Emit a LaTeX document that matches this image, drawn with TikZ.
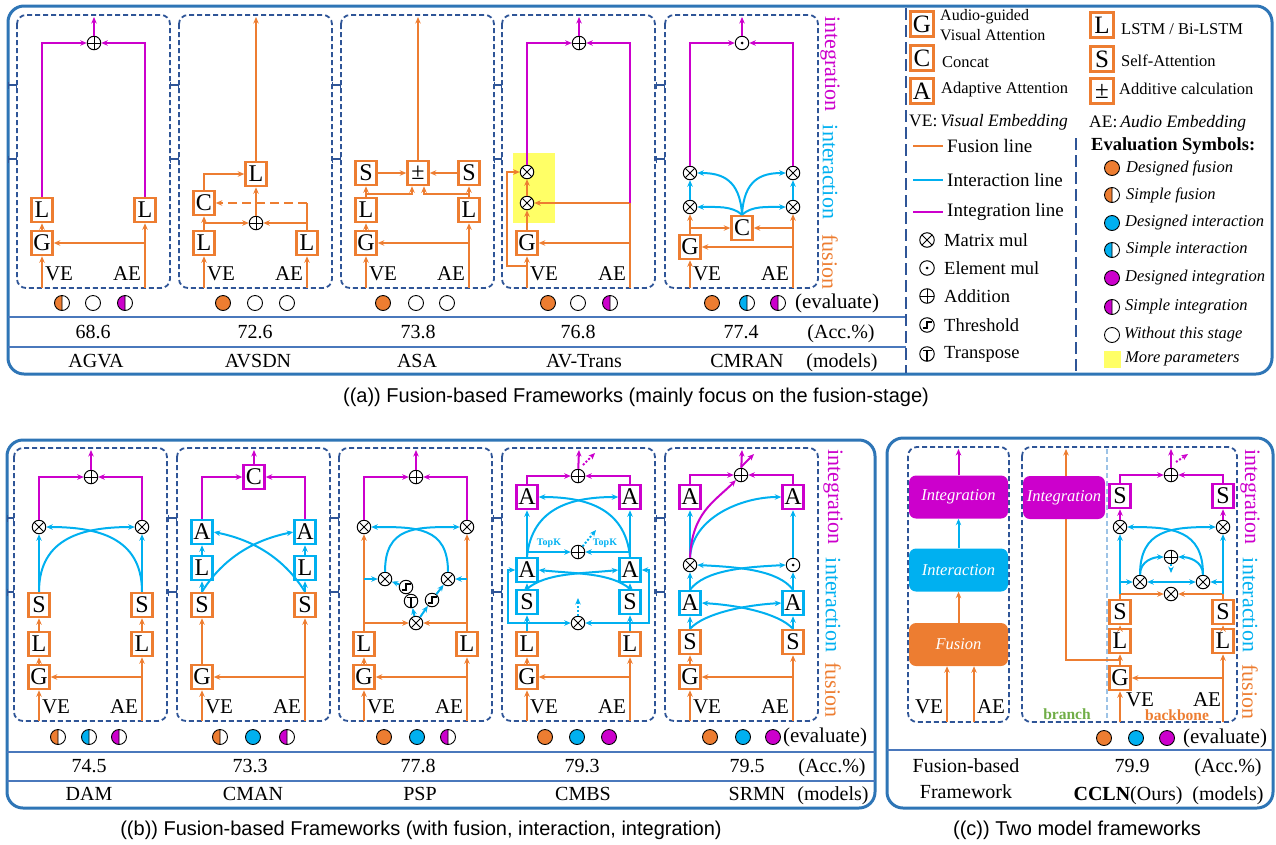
\documentclass[tikz,border=0pt]{standalone}
\usepackage{fontspec}
\setmainfont{Liberation Serif}
\newfontfamily\capfont{Liberation Sans}
\usetikzlibrary{arrows.meta}
\definecolor{orC}{HTML}{ED7D31}
\definecolor{cyC}{HTML}{00B0F0}
\definecolor{mgC}{HTML}{CC00CC}
\definecolor{frC}{HTML}{2E75B6}
\definecolor{dbC}{HTML}{2F5597}
\definecolor{tbC}{HTML}{4A78BC}
\definecolor{ylC}{HTML}{FFFF66}
\definecolor{grC}{HTML}{70AD47}
\definecolor{lbC}{HTML}{9DC3E6}
\newcommand\evf[3]{\draw[line width=0.9pt,fill=#3] (#1,#2) circle[radius=7.5];}
\newcommand\evh[3]{\fill[#3] (#1,#2) -- ++(0,7.5) arc[start angle=90,end angle=270,radius=7.5] -- cycle;
  \draw[line width=0.9pt] (#1,#2) circle[radius=7.5] (#1,#2) ++(0,-7.5) -- ++(0,15);}
\newcommand\evn[2]{\draw[line width=0.9pt,fill=white] (#1,#2) circle[radius=7.5];}
\newcommand\fwbase{%
  \draw[fwbox] (0,0) rectangle (153,273);
  \coordinate (ve) at (25,273);
  \coordinate (ae) at (128,273);
  \coordinate (out) at (77,2);
  \node[lab] (vet) at (42,259) {VE};
  \node[lab] (aet) at (110,259) {AE};
}
\begin{document}
\begin{tikzpicture}[x=1pt,y=-1pt,
  >={Stealth[length=6.5pt,width=5.5pt]},
  orl/.style={draw=orC,line width=2pt},
  cyl/.style={draw=cyC,line width=2pt},
  mgl/.style={draw=mgC,line width=2pt},
  dotl/.style={dash pattern=on 2pt off 1.8pt},
  obox/.style={draw=orC,line width=2.5pt,fill=white,minimum width=21pt,minimum height=24pt,inner sep=0pt,font=\fontsize{24}{24}\selectfont},
  cbox/.style={obox,draw=cyC},
  mbox/.style={obox,draw=mgC},
  lgb/.style={minimum width=23pt,minimum height=25pt,font=\fontsize{25}{25}\selectfont},
  opc/.style={circle,draw=black,line width=1pt,fill=white,minimum size=13.5pt,inner sep=0pt},
  otimes/.style={opc,path picture={\draw[black,line width=0.9pt] (path picture bounding box.north west) -- (path picture bounding box.south east) (path picture bounding box.north east) -- (path picture bounding box.south west);}},
  oplus/.style={opc,path picture={\draw[black,line width=0.9pt] (path picture bounding box.north) -- (path picture bounding box.south) (path picture bounding box.east) -- (path picture bounding box.west);}},
  odot/.style={opc,path picture={\fill[black] (path picture bounding box.center) circle[radius=1.5pt];}},
  thr/.style={opc,path picture={\draw[black,line width=1.1pt] ([shift={(-4.5pt,-3pt)}]path picture bounding box.center) -- ++(4.5pt,0pt) -- ++(0pt,6pt) -- ++(4.5pt,0pt);}},
  trp/.style={opc,path picture={\draw[black,line width=1.1pt] ([shift={(-4.5pt,3.5pt)}]path picture bounding box.center) -- ++(9pt,0pt) ([shift={(0pt,3.5pt)}]path picture bounding box.center) -- ++(0pt,-10pt);}},
  fwbox/.style={draw=dbC,line width=1.8pt,dash pattern=on 5pt off 3pt,rounded corners=9pt},
  panel/.style={draw=frC,line width=3pt,rounded corners=16pt},
  tline/.style={draw=tbC,line width=1.4pt},
  stgtick/.style={draw=dbC,line width=1.4pt,{Bar[width=7pt]}-{Bar[width=7pt]}},
  lab/.style={font=\fontsize{21}{21}\selectfont,inner sep=0pt},
  tbt/.style={font=\fontsize{20}{20}\selectfont,inner sep=0pt,text height=14pt,text depth=4pt},
  stg/.style={font=\fontsize{22}{22}\selectfont,rotate=-90,inner sep=0pt},
  lgt/.style={font=\fontsize{16.5}{19}\selectfont,inner sep=0pt,anchor=west},
  lgm/.style={font=\fontsize{19}{19}\selectfont,inner sep=0pt,anchor=west},
  lge/.style={font=\fontsize{16.5}{18}\selectfont\itshape,inner sep=0pt,anchor=west},
  blk/.style={rounded corners=7pt,minimum width=99pt,minimum height=43pt,inner sep=0pt,text=white,font=\fontsize{16.5}{18}\selectfont\itshape},
  capt/.style={font=\capfont\fontsize{20}{20}\selectfont,inner sep=0pt},
  topk/.style={font=\fontsize{10}{10}\selectfont\bfseries,text=cyC,inner sep=0pt}
]
\useasboundingbox (0,0) rectangle (1276,844);

% ---------- panels ----------
\draw[panel] (8,6) rectangle (1272,374);
\draw[panel] (7,440) rectangle (875,808);
\draw[panel] (887,438) rectangle (1273,808);
\draw[tline] (8,317) -- (906,317);
\draw[tline] (8,347) -- (906,347);
\draw[tline] (7,752) -- (875,752);
\draw[tline] (7,781) -- (875,781);
\draw[tline] (887,750) -- (1273,750);
\draw[draw=dbC,line width=1.6pt,dash pattern=on 12pt off 5pt] (906,8) -- (906,373);
\draw[draw=dbC,line width=1.6pt,dash pattern=on 12pt off 5pt] (1076,138) -- (1076,373);

% stage ticks
\foreach \y in {85,159}{
  \foreach \a/\b in {8/17,170/179,332/341,494/502,656/665}{\draw[stgtick] (\a,\y) -- (\b,\y);}}
\foreach \y in {518,592}{
  \foreach \a/\b in {7/14,168/177,330/339,493/502,656/665}{\draw[stgtick] (\a,\y) -- (\b,\y);}}

% ---------- AGVA ----------
\begin{scope}[shift={(17,15)},name prefix=agva-]
\fwbase
\node[obox] (G) at (25,228) {G};
\node[obox] (L1) at (25,195) {L};
\node[obox] (L2) at (128,195) {L};
\node[oplus] (P) at (77,28) {};
\draw[orl,->] (ve) -- (G);
\draw[orl,->] (ae) -- (L2);
\draw[orl,->] (ae |- G) -- (G);
\draw[orl,->] (G) -- (L1);
\draw[mgl,->] (L1.north) |- (P);
\draw[mgl,->] (L2.north) |- (P);
\draw[mgl,->] (P) -- (out);
\end{scope}

% ---------- AVSDN ----------
\begin{scope}[shift={(179,15)},name prefix=avsdn-]
\fwbase
\node[obox] (L1) at (25,228) {L};
\node[obox] (L2) at (128,228) {L};
\node[oplus] (P) at (77,208) {};
\node[obox] (C) at (25,188) {C};
\node[obox] (L3) at (77,159) {L};
\draw[orl,->] (ve) -- (L1);
\draw[orl,->] (ae) -- (L2);
\draw[orl,->] (L1) -- (C);
\draw[orl,->] (L1.north |- P) -- (P);
\draw[orl] (L2.north) -- (L2.north |- C);
\draw[orl,->] (L2.north |- P) -- (P);
\draw[orl,->,dash pattern=on 9pt off 5pt] (L2.north |- C) -- (C);
\draw[orl,->] (P) -- (L3);
\draw[orl,->] (C.north) |- (L3);
\draw[orl,->] (L3) -- (out);
\end{scope}

% ---------- ASA ----------
\begin{scope}[shift={(341,15)},name prefix=asa-]
\fwbase
\node[obox] (G) at (25,228) {G};
\node[obox] (L1) at (25,195) {L};
\node[obox] (S1) at (25,158) {S};
\node[obox] (L2) at (128,195) {L};
\node[obox] (S2) at (128,158) {S};
\node[obox] (PM) at (77,158) {±};
\coordinate (b1) at (25,179);
\coordinate (b2) at (128,179);
\draw[orl,->] (ve) -- (G);
\draw[orl,->] (ae) -- (L2);
\draw[orl,->] (ae |- G) -- (G);
\draw[orl,->] (G) -- (L1);
\draw[orl,->] (L1) -- (S1);
\draw[orl,->] (L2) -- (S2);
\draw[orl,->] (b1) -| ([xshift=-6pt]PM.south);
\draw[orl,->] (b2) -| ([xshift=6pt]PM.south);
\draw[orl,->] (S1) -- (PM);
\draw[orl,->] (S2) -- (PM);
\draw[orl,->] (PM) -- (out);
\end{scope}

% ---------- AV-Trans ----------
\begin{scope}[shift={(502,15)},name prefix=avt-]
\fill[ylC] (11,138) rectangle (53,208);
\fwbase
\node[obox] (G) at (25,228) {G};
\node[otimes] (X1) at (25,188) {};
\node[otimes] (X2) at (25,157) {};
\node[oplus] (P) at (77,28) {};
\coordinate (vb) at (25,251);
\coordinate (vc) at (5,157);
\draw[orl,->] (ve) -- (G);
\draw[orl,->] (vb) -| (vc) -- (X2);
\draw[orl] (ae) -- (ae |- X1);
\draw[orl,->] (ae |- G) -- (G);
\draw[orl,->] (ae |- X1) -- (X1);
\draw[mgl,->] (ae |- X1) |- (P);
\draw[orl,->] (G) -- (X1);
\draw[orl,->] (X1) -- (X2);
\draw[mgl,->] (X2.north) |- (P);
\draw[mgl,->] (P) -- (out);
\end{scope}

% ---------- CMRAN ----------
\begin{scope}[shift={(665,15)},name prefix=cmran-]
\fwbase
\node[obox] (G) at (25,232) {G};
\node[obox] (C) at (77,213) {C};
\node[otimes] (X1) at (25,192) {};
\node[otimes] (X2) at (25,158) {};
\node[otimes] (X3) at (128,192) {};
\node[otimes] (X4) at (128,158) {};
\node[odot] (D) at (77,28) {};
\draw[orl,->] (ve) -- (G);
\draw[orl,->] (G) -- (X1);
\draw[orl,->] (G.north |- C) -- (C);
\draw[orl,->] (ae) -- (X3);
\draw[orl,->] (ae |- G) -- (G);
\draw[orl,->] (ae |- C) -- (C);
\draw[cyl,->] (X1) -- (X2);
\draw[cyl,->] (X3) -- (X4);
\draw[cyl,->] (C.north) .. controls +(-10,-9) and +(20,0) .. (X1.east);
\draw[cyl,->] (C.north) .. controls +(10,-9) and +(-20,0) .. (X3.west);
\draw[cyl,->] (C.north) .. controls +(-2,-35) and +(25,0) .. (X2.east);
\draw[cyl,->] (C.north) .. controls +(2,-35) and +(-25,0) .. (X4.west);
\draw[mgl,->] (X2.north) |- (D);
\draw[mgl,->] (X4.north) |- (D);
\draw[mgl,->] (D) -- (out);
\end{scope}

% stage labels (a)
\node[stg,text=mgC] (sa1) at (830,64) {integration};
\node[stg,text=cyC] (sa2) at (830,172) {interaction};
\node[stg,text=orC] (sa3) at (830,262) {fusion};

% evaluation (a)
\evh{62}{303}{orC} \evn{93}{303} \evh{125}{303}{mgC}
\evf{223}{303}{orC} \evn{255}{303} \evn{287}{303}
\evf{383}{303}{orC} \evn{416}{303} \evn{447}{303}
\evf{548}{303}{orC} \evn{578}{303} \evh{610}{303}{mgC}
\evf{712}{303}{orC} \evh{747}{303}{cyC} \evh{778}{303}{mgC}
\node[tbt,font=\fontsize{21}{21}\selectfont] (ea) at (837,303) {(evaluate)};
\node[tbt] (acc1) at (93,333) {68.6};
\node[tbt] (acc2) at (255,333) {72.6};
\node[tbt] (acc3) at (418,333) {73.8};
\node[tbt] (acc4) at (578,333) {76.8};
\node[tbt] (acc5) at (741,333) {77.4};
\node[tbt] (acca) at (841,333) {(Acc.\%)};
\node[tbt] (m1) at (96,362) {AGVA};
\node[tbt] (m2) at (258,362) {AVSDN};
\node[tbt] (m3) at (417,362) {ASA};
\node[tbt] (m4) at (584,362) {AV-Trans};
\node[tbt] (m5) at (747,362) {CMRAN};
\node[tbt] (ma) at (842,362) {(models)};

% ---------- legend ----------
\node[obox,lgb] (lgG) at (922,24) {G};
\node[obox,lgb] (lgC) at (922,58) {C};
\node[obox,lgb] (lgA) at (922,91) {A};
\node[obox,lgb] (lgL) at (1102,25) {L};
\node[obox,lgb] (lgS) at (1102,59) {S};
\node[obox,lgb] (lgP) at (1102,91) {±};
\node[lgt,align=left,font=\fontsize{16}{19.5}\selectfont] (lgGt) at (940,25) {Audio-guided\\Visual Attention};
\node[lgt] (lgCt) at (942,62) {Concat};
\node[lgt] (lgAt) at (941,90) {Adaptive Attention};
\node[lgt] (lgLt) at (1121,29) {LSTM / Bi-LSTM};
\node[lgt] (lgSt) at (1121,61) {Self-Attention};
\node[lgt] (lgPt) at (1119,89) {Additive calculation};
\node[lgt,font=\fontsize{17.5}{19}\selectfont] (lgVE) at (909,122) {VE:\,\textit{Visual Embedding}};
\node[lgt,font=\fontsize{17.5}{19}\selectfont] (lgAE) at (1089,123) {AE:\,\textit{Audio Embedding}};
\coordinate (lf1) at (913,146); \coordinate (lf2) at (943,146);
\coordinate (li1) at (913,180); \coordinate (li2) at (943,180);
\coordinate (lm1) at (913,212); \coordinate (lm2) at (943,212);
\draw[orl] (lf1) -- (lf2);
\draw[cyl] (li1) -- (li2);
\draw[mgl] (lm1) -- (lm2);
\node[lgm] (lgf) at (947,146) {Fusion line};
\node[lgm] (lgi) at (947,180) {Interaction line};
\node[lgm] (lgm) at (947,212) {Integration line};
\node[otimes,minimum size=14.5pt] (sy1) at (927,240) {};
\node[odot,minimum size=14.5pt] (sy2) at (927,268) {};
\node[oplus,minimum size=14.5pt] (sy3) at (927,296) {};
\node[thr,minimum size=14.5pt] (sy4) at (927,325) {};
\node[trp,minimum size=14.5pt] (sy5) at (927,354) {};
\node[lgm,font=\fontsize{18.5}{19}\selectfont] (sy1t) at (944,240) {Matrix mul};
\node[lgm,font=\fontsize{18.5}{19}\selectfont] (sy2t) at (944,268) {Element mul};
\node[lgm,font=\fontsize{18.5}{19}\selectfont] (sy3t) at (944,296) {Addition};
\node[lgm,font=\fontsize{18.5}{19}\selectfont] (sy4t) at (944,325) {Threshold};
\node[lgm,font=\fontsize{18.5}{19}\selectfont] (sy5t) at (944,354) {Transpose};
\node[lgm,font=\fontsize{18.5}{19}\selectfont\bfseries] (evs) at (1091,146) {Evaluation Symbols:};
\evf{1112}{168}{orC} \evh{1112}{195}{orC} \evf{1112}{223}{cyC} \evh{1112}{250}{cyC}
\evf{1112}{278}{mgC} \evh{1112}{307}{mgC} \evn{1112}{335}
\fill[ylC] (1103.5,350.5) rectangle (1120.5,367.5);
\node[lge] (ev1) at (1126,168) {Designed fusion};
\node[lge] (ev2) at (1126,195) {Simple fusion};
\node[lge] (ev3) at (1125,223) {Designed interaction};
\node[lge] (ev4) at (1126,250) {Simple interaction};
\node[lge] (ev5) at (1125,278) {Designed integration};
\node[lge] (ev6) at (1125,307) {Simple integration};
\node[lge] (ev7) at (1124,335) {Without this stage};
\node[lge] (ev8) at (1125,359) {More parameters};

% ---------- DAM ----------
\begin{scope}[shift={(14,448)},name prefix=dam-]
\fwbase
\node[obox] (G) at (25,229) {G};
\node[obox] (L1) at (25,196) {L};
\node[obox] (S1) at (25,157) {S};
\node[obox] (L2) at (128,196) {L};
\node[obox] (S2) at (128,157) {S};
\node[otimes] (X1) at (25,79) {};
\node[otimes] (X2) at (128,79) {};
\node[oplus] (P) at (77,29) {};
\draw[orl,->] (ve) -- (G);
\draw[orl,->] (G) -- (L1);
\draw[orl,->] (L1) -- (S1);
\draw[orl,->] (ae) -- (L2);
\draw[orl,->] (ae |- G) -- (G);
\draw[orl,->] (L2) -- (S2);
\draw[cyl,->] (S1) -- (X1);
\draw[cyl,->] (S2) -- (X2);
\draw[cyl,->] (S1.north) .. controls +(0,-55) and +(-50,0) .. (X2.west);
\draw[cyl,->] (S2.north) .. controls +(0,-55) and +(50,0) .. (X1.east);
\draw[mgl,->] (X1.north) |- (P);
\draw[mgl,->] (X2.north) |- (P);
\draw[mgl,->] (P) -- (out);
\end{scope}

% ---------- CMAN ----------
\begin{scope}[shift={(177,448)},name prefix=cman-]
\fwbase
\node[obox] (G) at (25,229) {G};
\node[obox] (S1) at (25,157) {S};
\node[cbox] (L1) at (25,120) {L};
\node[cbox] (A1) at (25,84) {A};
\node[obox] (S2) at (128,157) {S};
\node[cbox] (L2) at (128,120) {L};
\node[cbox] (A2) at (128,84) {A};
\node[mbox] (C) at (77,29) {C};
\draw[orl,->] (ve) -- (G);
\draw[orl,->] (G) -- (S1);
\draw[orl,->] (ae) -- (S2);
\draw[orl,->] (ae |- G) -- (G);
\draw[cyl,->] (S1) -- (L1);
\draw[cyl,->] (L1) -- (A1);
\draw[cyl,->] (S2) -- (L2);
\draw[cyl,->] (L2) -- (A2);
\draw[cyl,->] (S1.north) .. controls +(25,-40) and +(-30,6) .. (A2.west);
\draw[cyl,->] (S2.north) .. controls +(-25,-40) and +(30,6) .. (A1.east);
\draw[mgl,->] (A1.north) |- (C);
\draw[mgl,->] (A2.north) |- (C);
\draw[mgl,->] (C) -- (out);
\end{scope}

% ---------- PSP ----------
\begin{scope}[shift={(339,448)},name prefix=psp-]
\fwbase
\node[obox] (G) at (25,229) {G};
\node[obox] (L1) at (25,196) {L};
\node[obox] (L2) at (128,196) {L};
\node[otimes] (XB) at (77,175) {};
\node[otimes] (XML) at (46,131) {};
\node[otimes] (XMR) at (109,131) {};
\node[thr] (TH1) at (67,139) {};
\node[trp] (TT) at (72,153) {};
\node[thr] (TH2) at (93,152) {};
\node[otimes] (XTL) at (25,79) {};
\node[otimes] (XTR) at (128,79) {};
\node[oplus] (P) at (77,29) {};
\draw[orl,->] (ve) -- (G);
\draw[orl,->] (G) -- (L1);
\draw[orl,->] (ae) -- (L2);
\draw[orl,->] (ae |- G) -- (G);
\draw[orl,->] (L1) -- (XTL);
\draw[orl,->] (L2) -- (XTR);
\draw[orl,->] (L1.north |- XB) -- (XB);
\draw[orl,->] (L2.north |- XB) -- (XB);
\draw[cyl,->] (L1.north |- XML) -- (XML);
\draw[cyl,->] (L2.north |- XMR) -- (XMR);
\draw[cyl,->] (XB) -- (TT);
\draw[cyl,->] (XB) -- (TH2);
\draw[cyl,->] (TH2) -- (XMR);
\draw[cyl,->] (TH1) -- (XML);
\draw[cyl,->] (XML.north) .. controls +(0,-45) and +(-45,0) .. (XTR.west);
\draw[cyl,->] (XMR.north) .. controls +(0,-45) and +(45,0) .. (XTL.east);
\draw[mgl,->] (XTL.north) |- (P);
\draw[mgl,->] (XTR.north) |- (P);
\draw[mgl,->] (P) -- (out);
\end{scope}

% ---------- CMBS ----------
\begin{scope}[shift={(502,448)},name prefix=cmbs-]
\fwbase
\node[obox] (G) at (25,229) {G};
\node[obox] (L1) at (25,196) {L};
\node[cbox] (S1) at (25,154) {S};
\node[cbox] (A1) at (25,122) {A};
\node[mbox] (AT1) at (25,49) {A};
\node[obox] (L2) at (128,196) {L};
\node[cbox] (S2) at (128,154) {S};
\node[cbox] (A2) at (128,122) {A};
\node[mbox] (AT2) at (128,49) {A};
\node[otimes] (X) at (76,175) {};
\node[oplus] (PM) at (76,104) {};
\node[oplus] (PT) at (76,28) {};
\node[topk] (tk1) at (47,95) {TopK};
\node[topk] (tk2) at (103,95) {TopK};
\coordinate (lp1) at (6,175);
\coordinate (lp2) at (147,175);
\coordinate (dx) at (76,150);
\coordinate (dp) at (94,82);
\coordinate (dts) at (81,17);
\coordinate (dt) at (93,5);
\draw[orl,->] (ve) -- (G);
\draw[orl,->] (G) -- (L1);
\draw[orl,->] (ae) -- (L2);
\draw[orl,->] (ae |- G) -- (G);
\draw[cyl,->] (L1) -- (S1);
\draw[cyl,->] (L2) -- (S2);
\draw[cyl,->] (L1.north |- X) -- (X);
\draw[cyl,->] (L2.north |- X) -- (X);
\draw[cyl,->] (L1.north |- X) -- (lp1) |- (A1);
\draw[cyl,->] (L2.north |- X) -- (lp2) |- (A2);
\draw[cyl,->] (S1) -- (A1);
\draw[cyl,->] (S2) -- (A2);
\draw[cyl,->] (S1.north) .. controls +(20,-16) and +(-40,4) .. (A2.west);
\draw[cyl,->] (S2.north) .. controls +(-20,-16) and +(40,4) .. (A1.east);
\draw[cyl,->] (A1) -- (AT1);
\draw[cyl,->] (A2) -- (AT2);
\draw[cyl,->] (A1.north |- PM) -- (PM);
\draw[cyl,->] (A2.north |- PM) -- (PM);
\draw[cyl,->] (A1.north) .. controls +(5,-50) and +(-45,0) .. (AT2.west);
\draw[cyl,->] (A2.north) .. controls +(-5,-50) and +(45,0) .. (AT1.east);
\draw[cyl,dotl,->] (X) -- (dx);
\draw[cyl,dotl,->] (PM) -- (dp);
\draw[mgl,->] (AT1.north) |- (PT);
\draw[mgl,->] (AT2.north) |- (PT);
\draw[mgl,->] (PT) -- (out);
\draw[mgl,dotl,->] (dts) -- (dt);
\end{scope}

% ---------- SRMN ----------
\begin{scope}[shift={(665,448)},name prefix=srmn-]
\fwbase
\node[obox] (G) at (25,229) {G};
\node[obox] (S1) at (25,194) {S};
\node[cbox] (A1) at (25,155) {A};
\node[otimes] (X) at (25,117) {};
\node[mbox] (AT1) at (25,49) {A};
\node[obox] (S2) at (128,194) {S};
\node[cbox] (A2) at (128,155) {A};
\node[odot] (D) at (128,117) {};
\node[mbox] (AT2) at (128,49) {A};
\node[oplus] (P) at (76,27) {};
\coordinate (ps) at (76,19);
\coordinate (pe) at (89,6);
\draw[orl,->] (ve) -- (G);
\draw[orl,->] (G) -- (S1);
\draw[orl,->] (ae) -- (S2);
\draw[orl,->] (ae |- G) -- (G);
\draw[cyl,->] (S1) -- (A1);
\draw[cyl,->] (S2) -- (A2);
\draw[cyl,->] (S1.north) .. controls +(15,-16) and +(-35,2) .. (A2.west);
\draw[cyl,->] (S2.north) .. controls +(-15,-16) and +(35,2) .. (A1.east);
\draw[cyl,->] (A1) -- (X);
\draw[cyl,->] (A2) -- (D);
\draw[cyl,->] (A1.north) .. controls +(15,-20) and +(-40,2) .. (D.west);
\draw[cyl,->] (A2.north) .. controls +(-15,-20) and +(40,2) .. (X.east);
\draw[cyl,->] (X) -- (AT1);
\draw[cyl,->] (D) -- (AT2);
\draw[cyl,->] (X.north) .. controls +(2,-40) and +(-40,0) .. (AT2.west);
\draw[mgl,->] (X.north) .. controls +(2,-45) and +(-22,22) .. (P.225);
\draw[mgl,->] (AT1.north) |- (P);
\draw[mgl,->] (AT2.north) |- (P);
\draw[mgl,->] (P) -- (out);
\draw[mgl,->] (ps) -- (pe);
\end{scope}

% stage labels (b)
\node[stg,text=mgC] (sb1) at (833,497) {integration};
\node[stg,text=cyC] (sb2) at (833,605) {interaction};
\node[stg,text=orC] (sb3) at (833,690) {fusion};

% evaluation (b)
\evh{58}{737}{orC} \evh{89}{737}{cyC} \evh{119}{737}{mgC}
\evh{220}{737}{orC} \evf{253}{737}{cyC} \evh{287}{737}{mgC}
\evf{384}{737}{orC} \evf{417}{737}{cyC} \evh{448}{737}{mgC}
\evf{545}{737}{orC} \evf{577}{737}{cyC} \evf{609}{737}{mgC}
\evf{710}{737}{orC} \evf{743}{737}{cyC} \evf{773}{737}{mgC}
\node[tbt,font=\fontsize{21}{21}\selectfont] (eb) at (825,737) {(evaluate)};
\node[tbt] (bacc1) at (89,767) {74.5};
\node[tbt] (bacc2) at (250,767) {73.3};
\node[tbt] (bacc3) at (418,767) {77.8};
\node[tbt] (bacc4) at (582,767) {79.3};
\node[tbt] (bacc5) at (747,767) {79.5};
\node[tbt] (bacca) at (832,767) {(Acc.\%)};
\node[tbt] (bm1) at (89,795) {DAM};
\node[tbt] (bm2) at (253,795) {CMAN};
\node[tbt] (bm3) at (420,795) {PSP};
\node[tbt] (bm4) at (583,795) {CMBS};
\node[tbt] (bm5) at (757,795) {SRMN};
\node[tbt] (bma) at (833,795) {(models)};

% ---------- panel (c) left ----------
\draw[fwbox] (908,447) rectangle (1009,722);
\node[blk,fill=orC] (cFus) at (958.5,644.5) {Fusion};
\node[blk,fill=cyC] (cInt) at (958.5,570) {Interaction};
\node[blk,fill=mgC] (cIng) at (958.5,497) {Integration};
\coordinate (clve) at (947,722);
\coordinate (clae) at (974,722);
\coordinate (clout) at (958.5,449);
\node[lab] (clvet) at (929,707) {VE};
\node[lab] (claet) at (991,707) {AE};
\draw[orl,->] (clve) -- (clve |- cFus.south);
\draw[orl,->] (clae) -- (clae |- cFus.south);
\draw[orl,->] (cFus) -- (cInt);
\draw[cyl,->] (cInt) -- (cIng);
\draw[mgl,->] (cIng) -- (clout);

% ---------- panel (c) right: CCLN ----------
\draw[fwbox] (1022,447) rectangle (1237,722);
\draw[lbC,line width=1.4pt,dash pattern=on 5pt off 3pt] (1107,449) -- (1107,720);
\coordinate (cve) at (1120,722);
\coordinate (cae) at (1223,722);
\coordinate (cbp) at (1120,660);
\coordinate (cbr) at (1066,449);
\coordinate (ctop) at (1171,449);
\coordinate (cpd) at (1171,573);
\coordinate (cds) at (1176,462);
\coordinate (cde) at (1188,454);
\draw[orl,->] (cbp) -| (cbr);
\node[blk,fill=mgC,minimum width=82pt] (cIngB) at (1064,497.5) {Integration};
\node[obox] (cG) at (1120,678) {G};
\node[obox] (cL1) at (1120,641) {L};
\node[obox] (cS1) at (1120,612) {S};
\node[obox] (cL2) at (1223,641) {L};
\node[obox] (cS2) at (1223,612) {S};
\node[otimes] (cXB) at (1171,594) {};
\node[otimes] (cXML) at (1140,582) {};
\node[otimes] (cXMR) at (1203,582) {};
\node[oplus] (cPM) at (1171,557) {};
\node[otimes] (cXTL) at (1120,527) {};
\node[otimes] (cXTR) at (1223,527) {};
\node[mbox] (cST1) at (1120,496) {S};
\node[mbox] (cST2) at (1223,496) {S};
\node[oplus] (cPT) at (1171,475) {};
\node[lab] (cvet) at (1140,700) {VE};
\node[lab] (caet) at (1207,700) {AE};
\node[font=\fontsize{15.5}{16}\selectfont\bfseries,text=grC,inner sep=0pt] (cbrt) at (1067,714) {branch};
\node[font=\fontsize{15.5}{16}\selectfont\bfseries,text=orC,inner sep=0pt] (cbbt) at (1177,715) {backbone};
\draw[orl,->] (cve) -- (cG);
\draw[orl,->] (cG) -- (cL1);
\draw[orl,->] (cL1) -- (cS1);
\draw[orl,->] (cae) -- (cL2);
\draw[orl,->] (cae |- cG) -- (cG);
\draw[orl,->] (cL2) -- (cS2);
\draw[orl] (cS1.north) -- (cS1.north |- cXB);
\draw[orl] (cS2.north) -- (cS2.north |- cXB);
\draw[orl,->] (cS1.north |- cXB) -- (cXB);
\draw[orl,->] (cS2.north |- cXB) -- (cXB);
\draw[cyl,->] (cS1.north |- cXB) -- (cXTL);
\draw[cyl,->] (cS2.north |- cXB) -- (cXTR);
\draw[cyl,->] (cS1.north |- cXML) -- (cXML);
\draw[cyl,->] (cS2.north |- cXMR) -- (cXMR);
\draw[cyl,<->] (cXML) -- (cXMR);
\draw[cyl,->] (cXML.north) .. controls +(0,-14) and +(-10,0) .. (cPM.west);
\draw[cyl,->] (cXMR.north) .. controls +(0,-14) and +(10,0) .. (cPM.east);
\draw[cyl,dotl,->] (cPM) -- (cpd);
\draw[cyl,->] (cXML.north) .. controls +(0,-45) and +(-45,0) .. (cXTR.west);
\draw[cyl,->] (cXMR.north) .. controls +(0,-45) and +(45,0) .. (cXTL.east);
\draw[mgl,->] (cXTL) -- (cST1);
\draw[mgl,->] (cXTR) -- (cST2);
\draw[mgl,->] (cST1.north) |- (cPT);
\draw[mgl,->] (cST2.north) |- (cPT);
\draw[mgl,->] (cPT) -- (ctop);
\draw[mgl,dotl,->] (cds) -- (cde);

% stage labels (c)
\node[stg,text=mgC] (sc1) at (1250,497) {integration};
\node[stg,text=cyC] (sc2) at (1250,605) {interaction};
\node[stg,text=orC] (sc3) at (1250,692) {fusion};

% evaluation (c)
\evf{1104}{738}{orC} \evf{1136}{738}{cyC} \evf{1167}{738}{mgC}
\node[tbt,font=\fontsize{21}{21}\selectfont] (ec) at (1225,738) {(evaluate)};
\node[tbt] (cf1) at (966,767) {Fusion-based};
\node[tbt] (cf2) at (966,793) {Framework};
\node[tbt] (cacc) at (1132,767) {79.9};
\node[tbt] (cacca) at (1228,767) {(Acc.\%)};
\node[tbt] (cm) at (1128,795) {\textbf{CCLN}(Ours)};
\node[tbt] (cma) at (1228,795) {(models)};

% captions
\node[capt] (capa) at (636,397) {((a)) Fusion-based Frameworks (mainly focus on the fusion-stage)};
\node[capt] (capb) at (421,830) {((b)) Fusion-based Frameworks (with fusion, interaction, integration)};
\node[capt] (capc) at (1077,830) {((c)) Two model frameworks};
\end{tikzpicture}
\end{document}
